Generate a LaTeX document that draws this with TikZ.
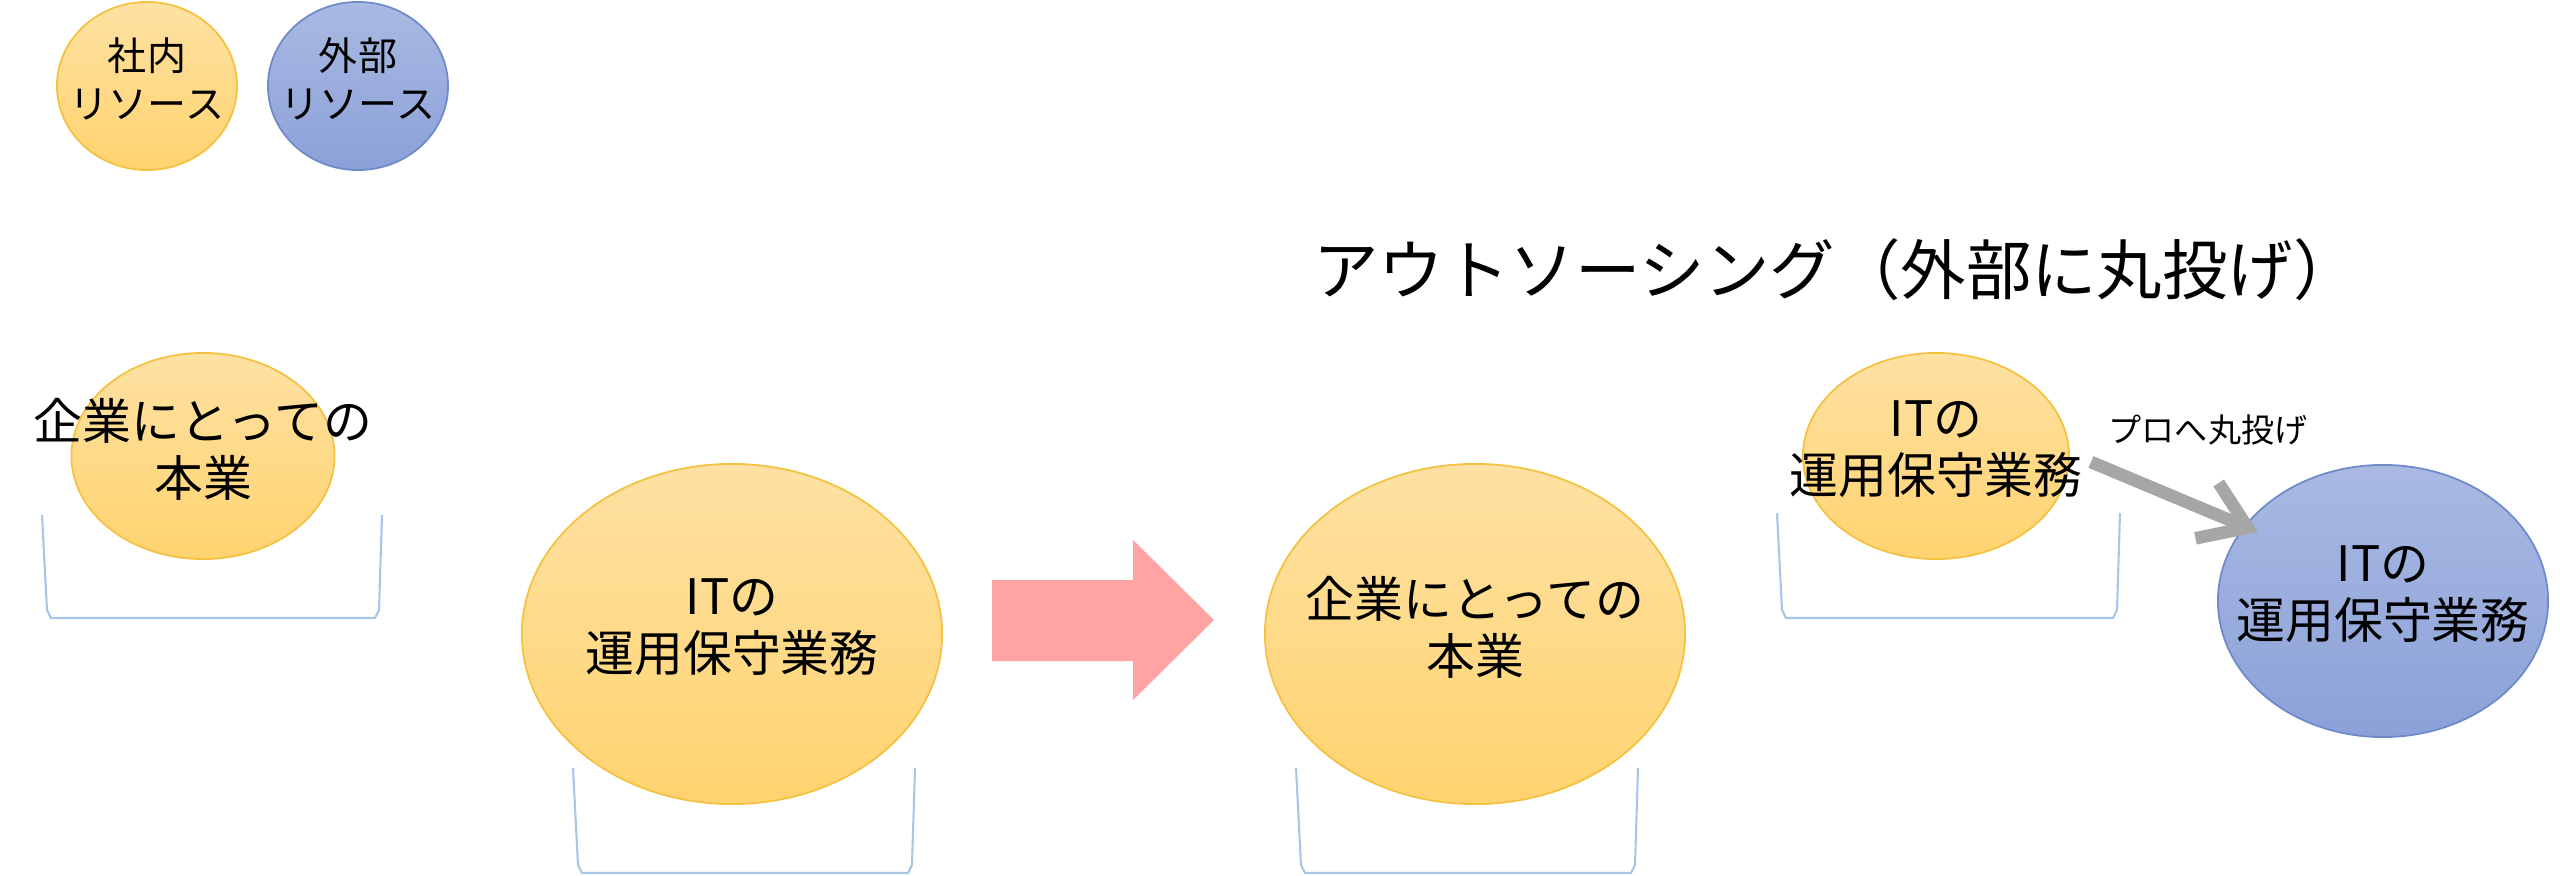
\documentclass[tikz,border=0pt]{standalone}
\usepackage{fontspec}
\setmainfont{Noto Sans CJK JP}
\usetikzlibrary{shapes.geometric,arrows.meta}

\definecolor{topO}{HTML}{FEE1A3}
\definecolor{botO}{HTML}{FFD36F}
\definecolor{edgeO}{HTML}{F4C140}
\definecolor{topB}{HTML}{A9B9E2}
\definecolor{botB}{HTML}{8BA1D8}
\definecolor{edgeB}{HTML}{6F8ACB}
\definecolor{tubline}{HTML}{A8C6E8}
\definecolor{pinkfill}{HTML}{FFA3A3}
\definecolor{grayline}{HTML}{A6A6A6}

\newcommand\fslegend{\fontsize{11.1pt}{13.7pt}\selectfont}
\newcommand\fsmid{\fontsize{13.9pt}{16.2pt}\selectfont}
\newcommand\fstitle{\fontsize{18.6pt}{21pt}\selectfont}
\newcommand\fssmall{\fontsize{9.4pt}{11pt}\selectfont}

\begin{document}
\begin{tikzpicture}[x=0.01cm,y=-0.01cm,
    inhouse/.style={ellipse,draw=edgeO,line width=0.5pt,top color=topO,bottom color=botO,inner sep=0pt},
    outside/.style={ellipse,draw=edgeB,line width=0.5pt,top color=topB,bottom color=botB,inner sep=0pt},
    lbl/.style={align=center,inner sep=0pt,font=\fsmid,yshift=0.07cm},
    tub/.style={draw=tubline,line width=0.6pt},
    handover/.style={draw=grayline,line width=3.6pt,-{Straight Barb[length=4.4mm,width=6mm]}}
    ]
    \useasboundingbox (0,0) rectangle (2560,876);

    % tubs under the balls
    \foreach \xa/\xb/\ya/\yb in {42/382/515/618, 573/915/768/873, 1296/1638/768/873, 1777/2120/513/618}
      \draw[tub] (\xa,\ya) -- (\xa+5,\yb-8) -- (\xa+9,\yb) -- (\xb-7,\yb) -- (\xb-3,\yb-8) -- (\xb,\ya);

    % legend
    \node (own) [inhouse,minimum width=1.8cm,minimum height=1.68cm,
      label={[lbl,font=\fslegend]center:社内\\リソース}] at (147,86) {};
    \node (ext) [outside,minimum width=1.8cm,minimum height=1.68cm,
      label={[lbl,font=\fslegend]center:外部\\リソース}] at (358,86) {};

    % before
    \node (honL) [inhouse,minimum width=2.63cm,minimum height=2.06cm,
      label={[lbl]center:企業にとっての\\本業}] at (203,456) {};
    \node (itL) [inhouse,minimum width=4.2cm,minimum height=3.4cm,
      label={[lbl]center:ITの\\運用保守業務}] at (732,634) {};

    \fill[pinkfill] (992,580) -- (1133,580) -- (1133,540) -- (1214,620)
      -- (1133,700) -- (1133,661) -- (992,661) -- cycle;

    % after
    \node (title) [font=\fstitle,inner sep=0pt] at (1836,270) {アウトソーシング（外部に丸投げ）};

    \node (honR) [inhouse,minimum width=4.2cm,minimum height=3.4cm,
      label={[lbl]center:企業にとっての\\本業}] at (1475,634) {};
    \node (itR) [inhouse,minimum width=2.66cm,minimum height=2.06cm,
      label={[lbl]center:ITの\\運用保守業務}] at (1936,456) {};
    \node (itX) [outside,minimum width=3.3cm,minimum height=2.72cm,
      label={[lbl]center:ITの\\運用保守業務}] at (2383,601) {};

    \draw[handover] ([shift={(21,6)}]itR.east) -- ([shift={(-125,-69)}]itX.center);
    \node (pro) [font=\fssmall,inner sep=0pt] at (2208,430) {プロへ丸投げ};

  \end{tikzpicture}
\end{document}
